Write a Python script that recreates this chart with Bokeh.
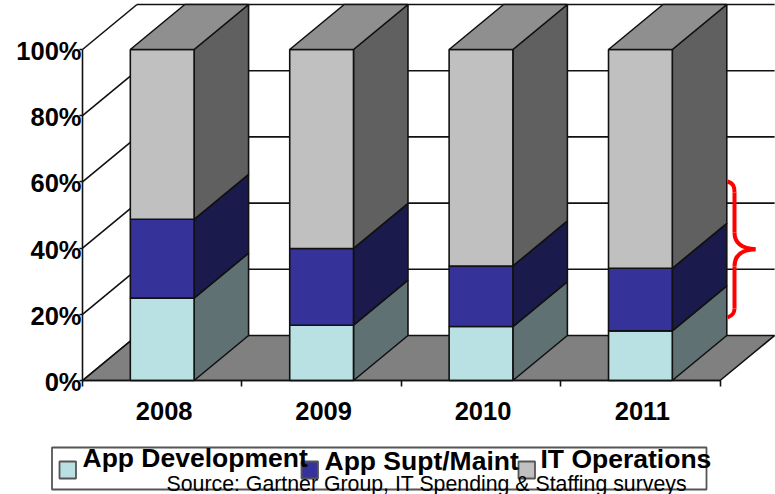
from bokeh.plotting import figure
from bokeh.embed import file_html
from bokeh.resources import INLINE
from bokeh.models import (Range1d, FixedTicker, Label)

years = ["2008", "2009", "2010", "2011"]
app_dev = [24.9, 16.7, 16.3, 15.0]
app_supt = [23.8, 23.2, 18.3, 18.9]
it_ops = [51.3, 60.1, 65.4, 66.1]
series_names = ["App Development", "App Supt/Maint", "IT Operations"]
y_ticks = [0, 20, 40, 60, 80, 100]
front_colors = ["#B9E0E3", "#353299", "#C0C0C0"]
side_colors = ["#5F7173", "#1A1A4D", "#606060"]
INK = "#111111"
FONT = "Liberation Sans"
LW = 1.6

W, H = 775, 494
ORIGIN_X, ORIGIN_Y = 82, 380
PX_X, PX_Y = 159.4, 3.31          # pixels per category / per percent
DX, DY = 54.5 / PX_X, 45 / PX_Y   # 3-D depth, data units
BAR = 0.4
n = len(years)

def bx(px):
    return (px - ORIGIN_X) / PX_X
def by(py):
    return (ORIGIN_Y - py) / PX_Y

p = figure(width=W, height=H, output_backend="svg", toolbar_location=None,
           x_range=Range1d(bx(0), bx(W)), y_range=Range1d(by(H), by(0)),
           min_border_left=0, min_border_right=0, min_border_top=0,
           min_border_bottom=0, outline_line_color=None)
p.grid.visible = False
p.background_fill_color = "white"

# floor
p.patch([0, DX, n + DX, n], [0, DY, DY, 0], fill_color="#808080", line_color=INK, line_width=LW)
# walls
for t in y_ticks:
    p.line([0, DX], [t, t + DY], line_color=INK, line_width=LW)
    if t:
        p.line([DX, n + DX], [t + DY, t + DY], line_color=INK, line_width=LW)

# stacked 3-D bars
stacks = [app_dev, app_supt, it_ops]
for i in range(n):
    c = i + 0.5
    l, r = c - BAR / 2, c + BAR / 2
    bottom = 0
    for s, vals in enumerate(stacks):
        top = bottom + vals[i]
        p.patch([r, r + DX, r + DX, r], [bottom, bottom + DY, top + DY, top],
                fill_color=side_colors[s], line_color=INK, line_width=LW)
        p.vbar(x=[c], bottom=[bottom], top=[top], width=BAR,
               fill_color=front_colors[s], line_color=INK, line_width=LW)
        bottom = top
    p.patch([l, l + DX, r + DX, r], [bottom, bottom + DY, bottom + DY, bottom],
            fill_color="#8F8F8F", line_color=INK, line_width=LW)

# red brace (annotation)
brace = [
    ((727, 181), (733, 183), (734, 186), (734, 192)),
    ((734, 192), (734, 215), (734, 215), (734, 232)),
    ((734, 232), (734, 243), (742, 248), (755, 248.7)),
    ((755, 248.7), (742, 249), (734, 254), (734, 266)),
    ((734, 266), (734, 285), (734, 285), (734, 308)),
    ((734, 308), (734, 313), (732, 315), (727, 317)),
]
p.bezier(x0=[bx(b[0][0]) for b in brace], y0=[by(b[0][1]) for b in brace],
         x1=[bx(b[3][0]) for b in brace], y1=[by(b[3][1]) for b in brace],
         cx0=[bx(b[1][0]) for b in brace], cy0=[by(b[1][1]) for b in brace],
         cx1=[bx(b[2][0]) for b in brace], cy1=[by(b[2][1]) for b in brace],
         line_color="#FF0000", line_width=4)

# axes
LABEL_DROP = 1.5 / PX_Y   # reference labels sit slightly under their ticks
ya = p.yaxis[0]
ya.fixed_location = 0
label_at = [t - LABEL_DROP for t in y_ticks]
ya.ticker = FixedTicker(ticks=label_at, minor_ticks=y_ticks)
ya.major_label_overrides = {a: f"{t}%" for a, t in zip(label_at, y_ticks)}
ya.bounds = (0, 100)
ya.major_tick_out = ya.major_tick_in = 0
ya.minor_tick_out, ya.minor_tick_in = 3, 0
ya.major_label_standoff = -2
ya.major_label_text_font = FONT
ya.major_label_text_font_style = "bold"
ya.major_label_text_font_size = "25.5px"
ya.major_label_text_color = "black"
ya.axis_line_color = INK
ya.axis_line_width = LW
ya.minor_tick_line_color = INK
ya.minor_tick_line_width = LW

xa = p.xaxis[0]
xa.fixed_location = 0
centers = [i + 0.5 + 2 / PX_X for i in range(n)]
xa.ticker = FixedTicker(ticks=centers, minor_ticks=list(range(n + 1)))
xa.major_label_overrides = {c: y for c, y in zip(centers, years)}
xa.bounds = (0, n)
xa.major_tick_out = xa.major_tick_in = 0
xa.minor_tick_out, xa.minor_tick_in = 6, 0
xa.major_label_standoff = 15
xa.major_label_text_font = FONT
xa.major_label_text_font_style = "bold"
xa.major_label_text_font_size = "25.5px"
xa.major_label_text_color = "black"
xa.axis_line_color = INK
xa.axis_line_width = LW
xa.minor_tick_line_color = INK
xa.minor_tick_line_width = LW

# legend: box, swatches and labels overlap in the reference, so they are placed one by one
p.quad(left=[bx(51.5)], right=[bx(706)], top=[by(447)], bottom=[by(489)],
       fill_color="white", line_color="#555555", line_width=1.8)
swatch_left = [59, 301, 518]
label_left = [82, 324, 540]
label_base = [457.5, 460.5, 458.5]
for k in range(3):
    p.quad(left=[bx(swatch_left[k])], right=[bx(swatch_left[k] + 16.5)],
           top=[by(461)], bottom=[by(478)],
           fill_color=front_colors[k], line_color="#555555", line_width=1.8)
    p.add_layout(Label(x=bx(label_left[k]), y=by(label_base[k]), text=series_names[k],
                       text_baseline="alphabetic", text_font=FONT, text_font_style="bold",
                       text_font_size="26.5px", text_color="black"))

source = Label(x=bx(166), y=by(483), text_baseline="alphabetic",
               text="Source: Gartner Group, IT Spending & Staffing surveys",
               text_font=FONT, text_font_size="21.3px", text_color="black")
p.add_layout(source)

open("out.html", "w").write(file_html(p, INLINE))
